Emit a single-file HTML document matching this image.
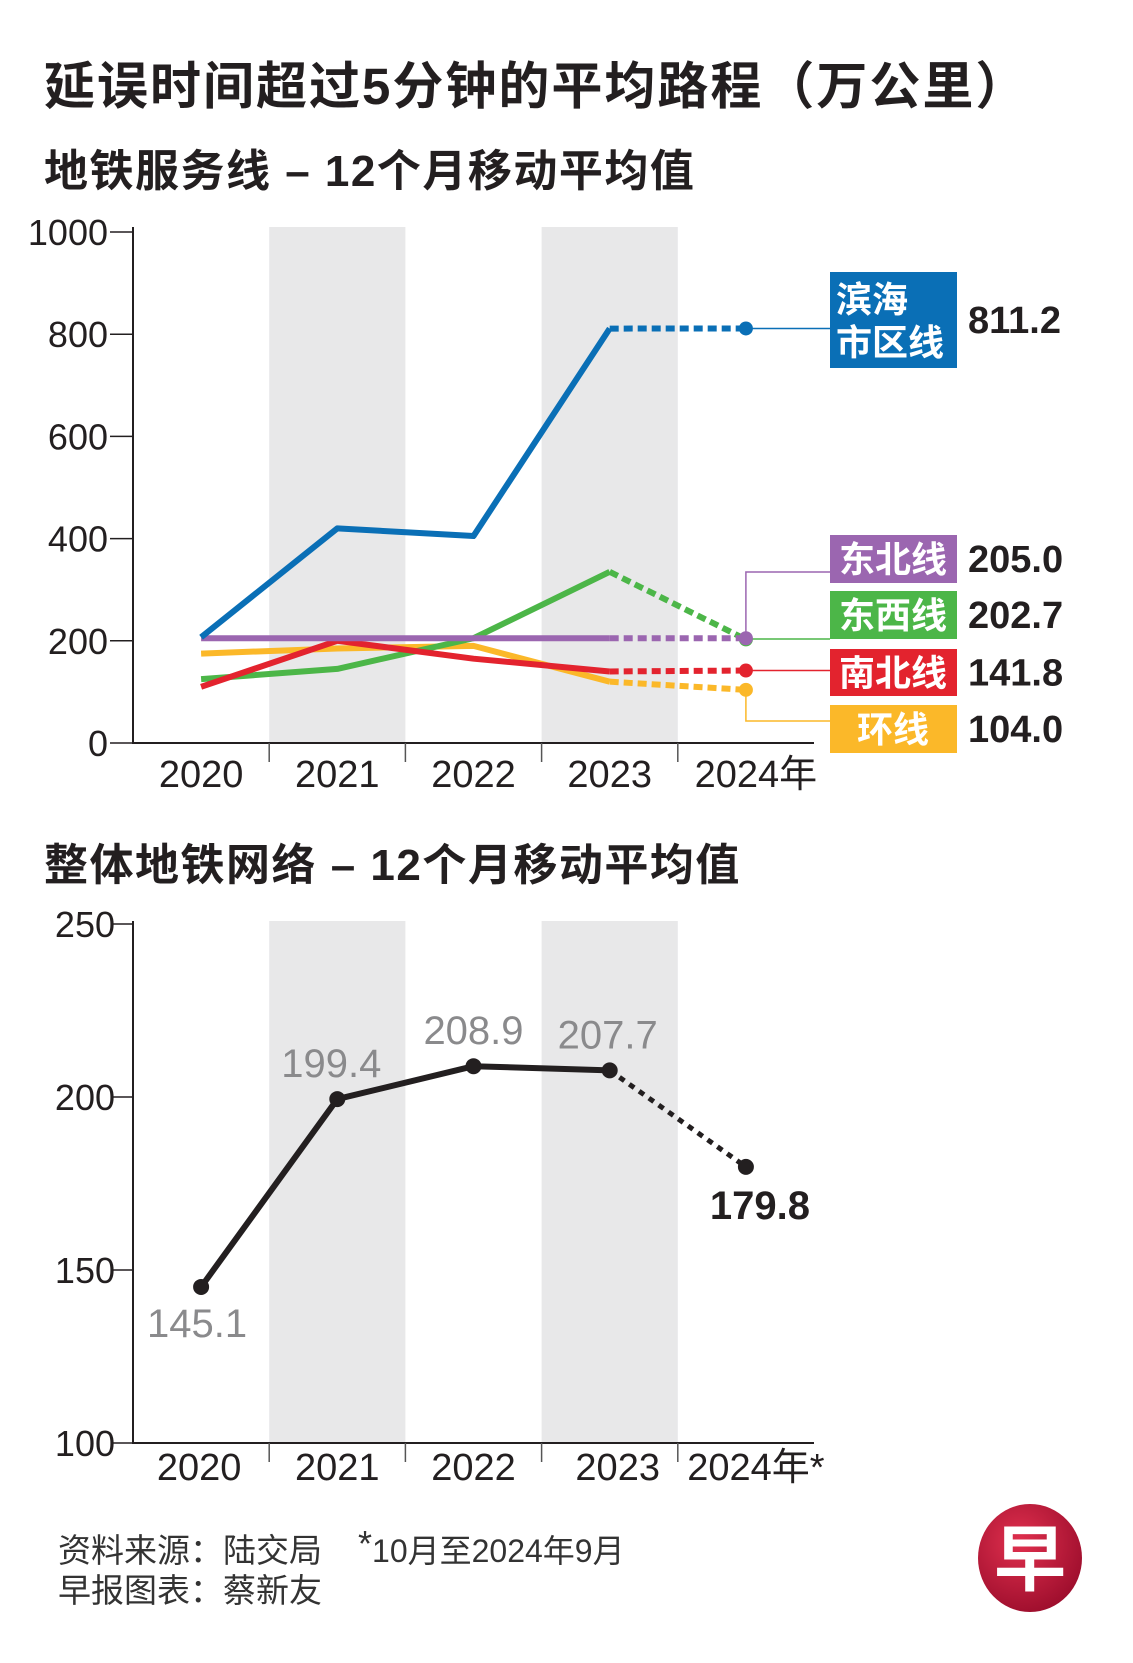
<!DOCTYPE html>
<html><head><meta charset="utf-8">
<style>
html,body{margin:0;padding:0;background:#fff;}
svg{display:block;}
.cn{font-family:"Liberation Sans","Noto Sans CJK SC",sans-serif;}
.nar{font-family:"Liberation Sans Narrow","Liberation Sans","Noto Sans CJK SC",sans-serif;}
</style></head>
<body>
<svg id="root" width="1133" height="1663" viewBox="0 0 1133 1663" xmlns="http://www.w3.org/2000/svg">
<text class="cn" x="44" y="104" font-size="51" font-weight="bold" letter-spacing="2" fill="#231f20">延误时间超过5分钟的平均路程（万公里）</text>
<text class="cn" x="44" y="186" font-size="44" font-weight="bold" letter-spacing="1.5" fill="#231f20">地铁服务线 – 12个月移动平均值</text>
<text class="cn" x="44" y="880" font-size="44" font-weight="bold" letter-spacing="1.5" fill="#231f20">整体地铁网络 – 12个月移动平均值</text>
<g id="c1"></g>
<g id="c2"></g>
<text class="cn" x="58" y="1562" font-size="33" fill="#333">资料来源：陆交局</text>
<text class="cn" x="358" y="1562" font-size="32" fill="#333"><tspan font-size="36" dy="-6">*</tspan><tspan dy="6">10月至2024年9月</tspan></text>
<text class="cn" x="58" y="1602" font-size="33" fill="#333">早报图表：蔡新友</text>
<g>
<defs><radialGradient id="lg" cx="0.4" cy="0.35" r="0.7"><stop offset="0" stop-color="#e0304e"/><stop offset="1" stop-color="#9c0d2c"/></radialGradient></defs>
<ellipse cx="1030" cy="1558" rx="52" ry="54" fill="url(#lg)"/>
<text x="1030" y="1585" text-anchor="middle" class="cn" font-size="72" font-weight="bold" fill="#fff">早</text>
</g>
</svg>
<script>
const years = ['2020','2021','2022','2023','2024年'];
const c1Ticks = [0,200,400,600,800,1000];
const dtlVals = [207,420,405,811,811.2];
const nelVals = [205,205,205,205,205.0];
const ewlVals = [125,145,205,335,202.7];
const nslVals = [110,200,165,140,141.8];
const cclVals = [175,185,190,120,104.0];
const c2Years = ['2020','2021','2022','2023','2024年*'];
const c2Ticks = [100,150,200,250];
const netVals = [145.1,199.4,208.9,207.7,179.8];
const netLabels = ['145.1','199.4','208.9','207.7','179.8'];

const NS='http://www.w3.org/2000/svg';
function mk(parent,tag,attrs,text){const e=document.createElementNS(NS,tag);for(const k in attrs)e.setAttribute(k,attrs[k]);if(text!==undefined)e.textContent=text;parent.appendChild(e);return e;}
const X0=133, COLW=136.2;
const xc=i=>X0+COLW*(i+0.5);
const y1=v=>743-(v/1000)*511;
const y2=v=>1443-((v-100)/150)*519;

// chart 1
const c1=document.getElementById('c1');
[1,3].forEach(i=>{const r=mk(c1,'rect',{x:X0+COLW*i,y:227,width:COLW,height:743-227,fill:'#e8e8e9'});

});
mk(c1,'line',{x1:X0,y1:227,x2:X0,y2:744,stroke:'#231f20','stroke-width':2});
mk(c1,'line',{x1:X0-1,y1:743,x2:X0+COLW*5,y2:743,stroke:'#231f20','stroke-width':2});
c1Ticks.forEach(t=>{const y=y1(t);
mk(c1,'line',{x1:110,y1:y,x2:X0,y2:y,stroke:'#231f20','stroke-width':1.5});
const tx=mk(c1,'text',{x:108,y:y+13,'text-anchor':'end','font-size':36,fill:'#231f20',class:'nar'},String(t));

});
years.forEach((yr,i)=>{if(i>0)mk(c1,'line',{x1:X0+COLW*i,y1:743,x2:X0+COLW*i,y2:762,stroke:'#555','stroke-width':1.5});
const tx=mk(c1,'text',{x:xc(i)+(i==4?10:0),y:787,'text-anchor':'middle','font-size':38,fill:'#231f20',class:'nar'},yr);

});
const series=[
 {vals:cclVals,col:'#fbb829',name:'circle-line',label:'环线',val:'104.0',box:[705,753],lead:'down',ly:721},
 {vals:ewlVals,col:'#4cb648',name:'east-west-line',label:'东西线',val:'202.7',box:[591,639],lead:'h',ly:639},
 {vals:nslVals,col:'#e3232e',name:'north-south-line',label:'南北线',val:'141.8',box:[649,696],lead:'h',ly:null},
 {vals:nelVals,col:'#9b66b0',name:'north-east-line',label:'东北线',val:'205.0',box:[535,583],lead:'up',ly:572},
 {vals:dtlVals,col:'#0a6fb6',name:'downtown-line',label:'',val:'811.2',box:[272,368],lead:'h',ly:null}
];
series.forEach(s=>{
 const g=mk(c1,'g',{});
 
 
 let d='';for(let i=0;i<4;i++)d+=(i?'L':'M')+xc(i)+' '+y1(s.vals[i]);
 mk(g,'path',{d:d,fill:'none',stroke:s.col,'stroke-width':6,'stroke-linejoin':'round'});
 mk(g,'line',{x1:xc(3),y1:y1(s.vals[3]),x2:xc(4),y2:y1(s.vals[4]),stroke:s.col,'stroke-width':6,'stroke-dasharray':'9 5'});
 const px=xc(4),py=y1(s.vals[4]);
 const dot=mk(g,'circle',{cx:px,cy:py,r:7,fill:s.col});
 
 
 const bx=830;
 let ly=s.ly===null?py:s.ly;
 if(s.ly===null) mk(g,'line',{x1:px,y1:py,x2:bx,y2:py,stroke:s.col,'stroke-width':1.5});
 else mk(g,'polyline',{points:`${px},${py} ${px},${ly} ${bx},${ly}`,fill:'none',stroke:s.col,'stroke-width':1.5});
 const b=mk(g,'rect',{x:bx,y:s.box[0],width:127,height:s.box[1]-s.box[0],fill:s.col});
 
 
 const cy=(s.box[0]+s.box[1])/2;
 if(s.label){const t=mk(g,'text',{x:bx+63,y:cy+13,'text-anchor':'middle','font-size':36,'font-weight':'bold',fill:'#fff',class:'cn'},s.label);
 
 }
 else{mk(g,'text',{x:bx+6,y:s.box[0]+40,'font-size':36,'font-weight':'bold',fill:'#fff',class:'cn'},'滨海');
 mk(g,'text',{x:bx+6,y:s.box[0]+83,'font-size':36,'font-weight':'bold',fill:'#fff',class:'cn'},'市区线');}
 const vt=mk(g,'text',{x:968,y:cy+13,'font-size':38,'font-weight':'bold',fill:'#231f20',class:'nar'},s.val);
 
 
});

// chart 2
const c2=document.getElementById('c2');
[1,3].forEach(i=>{const r=mk(c2,'rect',{x:X0+COLW*i,y:921,width:COLW,height:1443-921,fill:'#e8e8e9'});

});
mk(c2,'line',{x1:X0,y1:921,x2:X0,y2:1444,stroke:'#231f20','stroke-width':2});
mk(c2,'line',{x1:X0-1,y1:1443,x2:X0+COLW*5,y2:1443,stroke:'#231f20','stroke-width':2});
c2Ticks.forEach(t=>{const y=y2(t);
mk(c2,'line',{x1:113,y1:y,x2:X0,y2:y,stroke:'#231f20','stroke-width':1.5});
const tx=mk(c2,'text',{x:115,y:y+13,'text-anchor':'end','font-size':36,fill:'#231f20',class:'nar'},String(t));

});
c2Years.forEach((yr,i)=>{if(i>0)mk(c2,'line',{x1:X0+COLW*i,y1:1443,x2:X0+COLW*i,y2:1462,stroke:'#555','stroke-width':1.5});
const tx=mk(c2,'text',{x:xc(i)+(i==0?-2:i==4?10:i==3?8:0),y:1480,'text-anchor':'middle','font-size':38,fill:'#231f20',class:'nar'},yr);

});
let d2='';for(let i=0;i<4;i++)d2+=(i?'L':'M')+xc(i)+' '+y2(netVals[i]);
const nl=mk(c2,'path',{d:d2,fill:'none',stroke:'#231f20','stroke-width':6,'stroke-linejoin':'round'});


mk(c2,'line',{x1:xc(3),y1:y2(netVals[3]),x2:xc(4),y2:y2(netVals[4]),stroke:'#231f20','stroke-width':5,'stroke-dasharray':'6 6'});
const lblOff=[[-4,50],[-6,-22],[0,-22],[-2,-22],[14,52]];
netVals.forEach((v,i)=>{
 const c=mk(c2,'circle',{cx:xc(i),cy:y2(v),r:8,fill:'#231f20'});
 
 
 const last=i===4;
 const t=mk(c2,'text',{x:xc(i)+lblOff[i][0],y:y2(v)+lblOff[i][1],'text-anchor':'middle','font-size':40,'font-weight':last?'bold':'normal',fill:last?'#231f20':'#8a8a8c',class:'nar'},netLabels[i]);
 
 
});
</script>
</body></html>
